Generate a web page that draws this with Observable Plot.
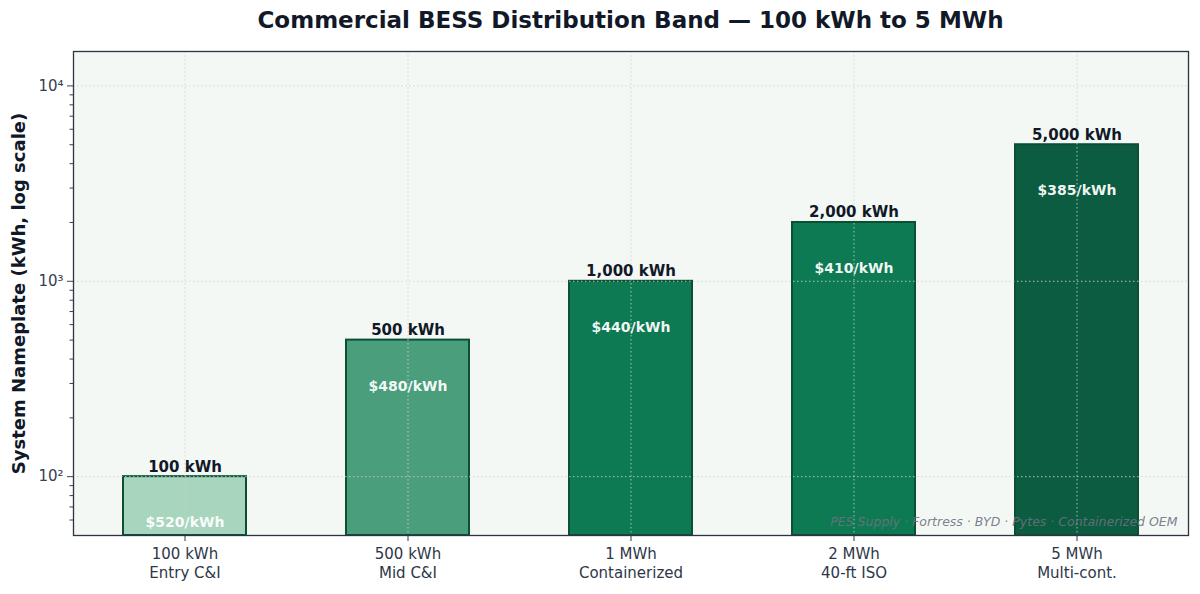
<!DOCTYPE html>
<html>
<head>
<meta charset="utf-8">
<script src="https://cdn.jsdelivr.net/npm/d3@7"></script>
<script src="https://cdn.jsdelivr.net/npm/@observablehq/plot@0.6"></script>
<style>
  html, body { margin: 0; padding: 0; background: #ffffff; }
  body { width: 1200px; height: 594px; overflow: hidden; font-family: "DejaVu Sans", sans-serif; }
  #title { height: 40px; line-height: 40px; padding-left: 73px; padding-right: 12px; text-align: center;
           font-size: 23px; font-weight: bold; color: #111827; box-sizing: border-box; }
  svg { display: block; }
</style>
</head>
<body>
<div id="title">Commercial BESS Distribution Band — 100 kWh to 5 MWh</div>
<div id="chart"></div>
<script>
// ---- data ----
const categories = ["100 kWh\nEntry C&I", "500 kWh\nMid C&I", "1 MWh\nContainerized", "2 MWh\n40-ft ISO", "5 MWh\nMulti-cont."];
const capacities = [100, 500, 1000, 2000, 5000];
const prices = [520, 480, 440, 410, 385];
const yMajorTicks = [100, 1000, 10000];
const yMajorLabels = ["10²", "10³", "10⁴"];
const yMinorTicks = [60, 70, 80, 90, 200, 300, 400, 500, 600, 700, 800, 900, 2000, 3000, 4000, 5000, 6000, 7000, 8000, 9000];
const yDomain = [50, 15000];
const sourceNote = "PES Supply · Fortress · BYD · Pytes · Containerized OEM";
const yLabel = "System Nameplate (kWh, log scale)";

// ---- styles ----
const barColors = ["#a8d5be", "#4a9e7c", "#0e7a53", "#0e7a53", "#0b5c40"];
const ink = "#111827";
const axisInk = "#374151";

const rows = categories.map((c, i) => ({cat: c, cap: capacities[i], price: prices[i], color: barColors[i]}));
const fmt = d3.format(",");

const plot = Plot.plot({
  width: 1200,
  height: 554,
  marginTop: 11,
  marginBottom: 59,
  marginLeft: 73,
  marginRight: 12,
  style: {fontFamily: "DejaVu Sans, sans-serif", background: "transparent", overflow: "visible"},
  x: {type: "band", domain: categories, paddingInner: 0.45, paddingOuter: 0.225},
  y: {type: "log", domain: yDomain},
  marks: [
    Plot.frame({fill: "#f4f8f5", stroke: null}),
    Plot.barY(rows, {x: "cat", y1: () => yDomain[0], y2: "cap", fill: "color", stroke: "#0b5034", strokeWidth: 2}),
    // gridlines (on top of bars)
    Plot.ruleY(yMajorTicks, {stroke: "#c9d2cd", strokeOpacity: 0.85, strokeWidth: 1, strokeDasharray: "1.5,2.5"}),
    Plot.ruleX(categories, {x: d => d, stroke: "#c9d2cd", strokeOpacity: 0.85, strokeWidth: 1, strokeDasharray: "1.5,2.5"}),
    // value labels above bars
    Plot.text(rows, {x: "cat", y: "cap", text: d => fmt(d.cap) + " kWh", lineAnchor: "bottom", dy: -5,
      fontSize: 15, fontWeight: "bold", fill: ink}),
    // price labels inside bars
    Plot.text(rows, {x: "cat", y: d => d.cap * 0.58, text: d => "$" + d.price + "/kWh",
      fontSize: 14, fontWeight: "bold", fill: "#ffffff", fillOpacity: 0.95}),
    // source note
    Plot.text([sourceNote], {frameAnchor: "bottom-right", text: d => d, dx: -11, dy: -10,
      fontSize: 12.5, fontStyle: "italic", fill: "#6b7280", fillOpacity: 0.9}),
    // axes
    Plot.axisY(yMinorTicks, {tickSize: 3.5, tickFormat: () => "", stroke: axisInk, label: null}),
    Plot.axisY(yMajorTicks, {tickSize: 6, tickPadding: 4, tickFormat: d => yMajorLabels[yMajorTicks.indexOf(d)],
      fontSize: 15, color: axisInk, label: null}),
    Plot.axisX({tickSize: 6, tickPadding: 4, fontSize: 15, color: "#2d3748", label: null, lineHeight: 1.25}),
    Plot.frame({stroke: "#2d3340", strokeWidth: 1.3}),
    // y label
    Plot.text([yLabel], {frameAnchor: "left", text: d => d, rotate: -90, dx: -54, textAnchor: "middle",
      fontSize: 18, fontWeight: "bold", fill: ink})
  ]
});
document.getElementById("chart").appendChild(plot);
</script>
</body>
</html>
